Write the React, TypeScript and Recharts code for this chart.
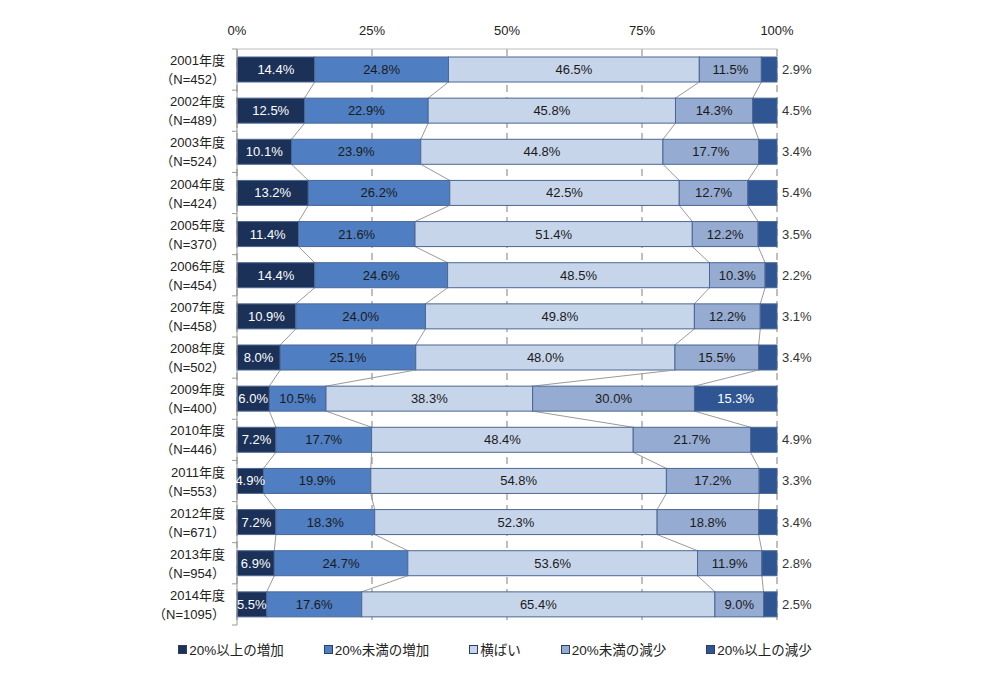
import { BarChart, Bar, XAxis, YAxis, CartesianGrid, LabelList } from "recharts";

const years = ["2001", "2002", "2003", "2004", "2005", "2006", "2007", "2008", "2009", "2010", "2011", "2012", "2013", "2014"];
const sampleN = [452, 489, 524, 424, 370, 454, 458, 502, 400, 446, 553, 671, 954, 1095];

const bigUp = [14.4, 12.5, 10.1, 13.2, 11.4, 14.4, 10.9, 8.0, 6.0, 7.2, 4.9, 7.2, 6.9, 5.5];
const smallUp = [24.8, 22.9, 23.9, 26.2, 21.6, 24.6, 24.0, 25.1, 10.5, 17.7, 19.9, 18.3, 24.7, 17.6];
const flat = [46.5, 45.8, 44.8, 42.5, 51.4, 48.5, 49.8, 48.0, 38.3, 48.4, 54.8, 52.3, 53.6, 65.4];
const smallDown = [11.5, 14.3, 17.7, 12.7, 12.2, 10.3, 12.2, 15.5, 30.0, 21.7, 17.2, 18.8, 11.9, 9.0];
const bigDown = [2.9, 4.5, 3.4, 5.4, 3.5, 2.2, 3.1, 3.4, 15.3, 4.9, 3.3, 3.4, 2.8, 2.5];

const xTicks = [0, 0.25, 0.5, 0.75, 1];

const series = [
  { key: "s1", name: "20%以上の増加", values: bigUp, color: "#1b3158", text: "#ffffff" },
  { key: "s2", name: "20%未満の増加", values: smallUp, color: "#4f7fc2", text: "#1a1a1a" },
  { key: "s3", name: "横ばい", values: flat, color: "#c7d5eb", text: "#1a1a1a" },
  { key: "s4", name: "20%未満の減少", values: smallDown, color: "#95abd1", text: "#1a1a1a" },
  { key: "s5", name: "20%以上の減少", values: bigDown, color: "#2f5592", text: "#ffffff" },
];

const data = years.map((y, i) => {
  const row: any = { year: y };
  series.forEach((s) => (row[s.key] = s.values[i]));
  return row;
});

const W = 990;
const H = 685;
const MARGIN = { top: 19, right: 213, bottom: 60, left: 0 };
const X_AXIS_H = 30;
const Y_AXIS_W = 237;
const BAND = (H - MARGIN.top - MARGIN.bottom - X_AXIS_H) / years.length;
const FONT = "'Liberation Sans', 'Noto Sans CJK JP', sans-serif";
const FS = 13;

const totalOf = (row: number) => series.reduce((a, s) => a + s.values[row], 0);
const cumFrac = (row: number, k: number) => {
  let cum = 0;
  for (let j = 0; j <= k; j++) cum += series[j].values[row];
  return cum / totalOf(row);
};

// bar segment + the thin "series line" joining it to the next row's segment edge
const makeShape = (k: number) => (props: any) => {
  const { x, y, width, height, fill, index } = props;
  const row = typeof index === "number" ? index : years.indexOf(props.payload?.year);
  let link = null;
  if (k < series.length - 1 && row < years.length - 1) {
    const full = width / (series[k].values[row] / totalOf(row));
    const x0 = x + width - cumFrac(row, k) * full;
    const nx = x0 + cumFrac(row + 1, k) * full;
    link = <line x1={x + width} y1={y + height} x2={nx} y2={y + BAND} stroke="#9a9a9a" strokeWidth={1} />;
  }
  return (
    <g>
      <rect x={x} y={y} width={width} height={height} fill={fill} stroke="#4b6793" strokeWidth={1} />
      {link}
    </g>
  );
};

const makeLabel = (k: number) => (props: any) => {
  const { x, y, width, height, index } = props;
  const v = series[k].values[index];
  const txt = `${v.toFixed(1)}%`;
  const cy = y + height / 2;
  if (k === 4 && v < 10) {
    return (
      <text x={x + width + 5} y={cy} dy="0.35em" fontSize={FS} fill="#333" fontFamily={FONT} textAnchor="start">
        {txt}
      </text>
    );
  }
  return (
    <text x={x + width / 2} y={cy} dy="0.35em" fontSize={FS} fill={series[k].text} fontFamily={FONT} textAnchor="middle">
      {txt}
    </text>
  );
};

const YTick = (props: any) => {
  const { y, payload, index } = props;
  const i = typeof index === "number" ? index : years.indexOf(payload.value);
  const axisX = Y_AXIS_W;
  return (
    <g>
      <text x={225} y={y - 9} dy="0.35em" textAnchor="end" fontSize={FS} fill="#222" fontFamily={FONT}>
        {`${payload.value}年度`}
      </text>
      <text x={225} y={y + 10} dy="0.35em" textAnchor="end" fontSize={FS} fill="#222" fontFamily={FONT}>
        <tspan fontFamily="'Noto Sans CJK JP', sans-serif">（</tspan>
        {`N=${sampleN[i]}`}
        <tspan fontFamily="'Noto Sans CJK JP', sans-serif">）</tspan>
      </text>
      <line x1={axisX - 5} x2={axisX} y1={y - BAND / 2} y2={y - BAND / 2} stroke="#999" />
      {i === years.length - 1 && <line x1={axisX - 5} x2={axisX} y1={y + BAND / 2} y2={y + BAND / 2} stroke="#999" />}
    </g>
  );
};

const ChartLegend = () => (
  <div
    style={{
      position: "absolute",
      top: 639,
      left: 0,
      width: W,
      display: "flex",
      justifyContent: "center",
      gap: 40,
      fontFamily: FONT,
      fontSize: 13.5,
      color: "#222",
    }}
  >
    {series.map((s) => (
      <div key={s.key} style={{ display: "flex", alignItems: "center" }}>
        <span style={{ width: 7, height: 7, background: s.color, border: "1px solid #2a3f66", marginRight: 2, display: "inline-block" }} />
        <span>{s.name}</span>
      </div>
    ))}
  </div>
);

export default function App() {
  return (
    <div style={{ position: "absolute", left: 0, top: 0, width: W, height: H, background: "#fff" }}>
      <BarChart width={W} height={H} data={data} layout="vertical" stackOffset="expand" margin={MARGIN} barSize={25}>
        <CartesianGrid horizontal={false} vertical stroke="#7f7f7f" strokeDasharray="7 5" />
        <XAxis
          type="number"
          orientation="top"
          domain={[0, 1]}
          ticks={xTicks}
          tickFormatter={(v: number) => `${Math.round(v * 100)}%`}
          height={X_AXIS_H}
          axisLine={{ stroke: "#bdbdbd" }}
          tickLine={false}
          tickMargin={8}
          tick={{ fontSize: FS, fill: "#222", fontFamily: FONT }}
        />
        <YAxis
          type="category"
          dataKey="year"
          width={Y_AXIS_W}
          axisLine={{ stroke: "#999" }}
          tickLine={false}
          tick={<YTick />}
          interval={0}
        />
        {series.map((s, k) => (
          <Bar key={s.key} dataKey={s.key} name={s.name} stackId="a" fill={s.color} shape={makeShape(k)} isAnimationActive={false}>
            <LabelList dataKey={s.key} content={makeLabel(k)} />
          </Bar>
        ))}
      </BarChart>
      <ChartLegend />
    </div>
  );
}
